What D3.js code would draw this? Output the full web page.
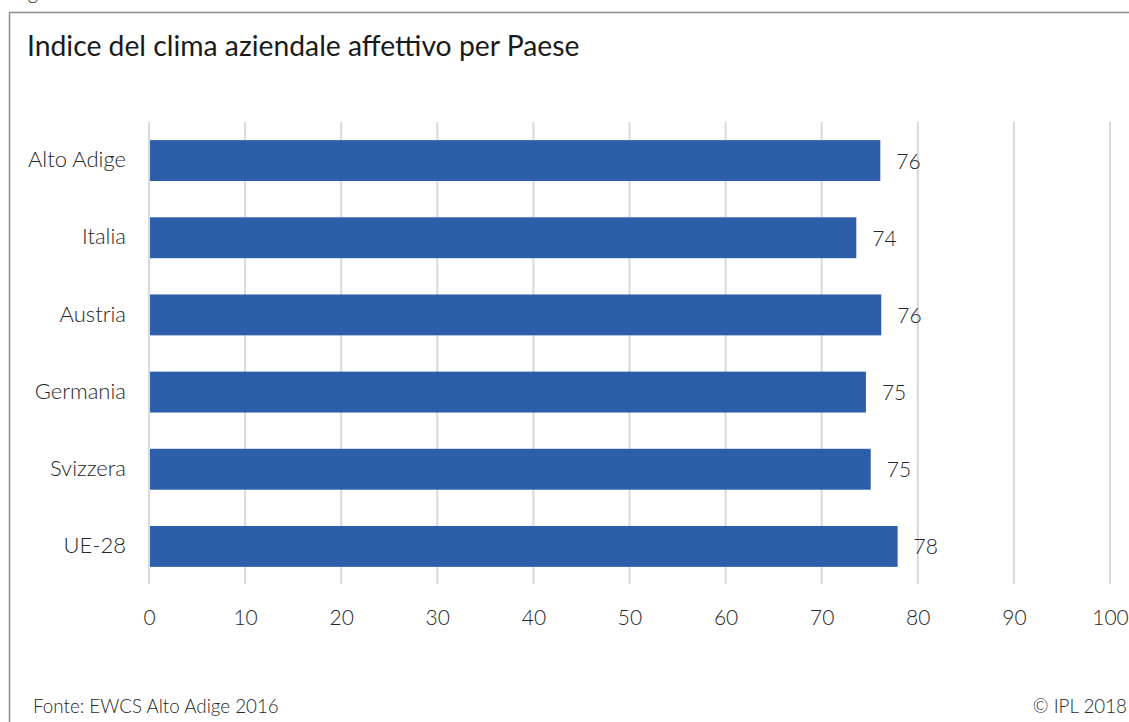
<!DOCTYPE html>
<html>
<head>
<meta charset="utf-8">
<script src="https://cdn.jsdelivr.net/npm/d3@7"></script>
<style>
  html, body { margin: 0; padding: 0; background: #fff; }
  svg { display: block; font-family: Lato, "Noto Sans", sans-serif; font-weight: 300; }
</style>
</head>
<body>
<svg id="chart" width="1129" height="722"></svg>
<script>
const categories = ["Alto Adige", "Italia", "Austria", "Germania", "Svizzera", "UE-28"];
const values = [76.1, 73.6, 76.2, 74.6, 75.1, 77.9];
const valueLabels = ["76", "74", "76", "75", "75", "78"];
const xTicks = [0, 10, 20, 30, 40, 50, 60, 70, 80, 90, 100];
const title = "Indice del clima aziendale affettivo per Paese";
const source = "Fonte: EWCS Alto Adige 2016";
const copyright = "© IPL 2018";

const svg = d3.select("#chart");

// heading above the frame, clipped by the top edge as in the reference
svg.append("text").attr("x", 11).attr("y", -1)
  .attr("font-size", 21).attr("fill", "#333").text("Figura");

// frame
svg.append("path")
  .attr("d", "M9.5,722 V12.5 H1129")
  .attr("fill", "none").attr("stroke", "#8c8c8c").attr("stroke-width", 1.5);

svg.append("text").attr("x", 27).attr("y", 56)
  .attr("font-size", 28.3).attr("font-weight", 400).attr("fill", "#1a1a1a").text(title);

const x = d3.scaleLinear().domain([0, 100]).range([149, 1110]);
const y = d3.scaleBand().domain(categories).range([122, 585]).paddingInner(0.47).paddingOuter(0.235);

// grid
svg.append("g").selectAll("line").data(xTicks).join("line")
  .attr("x1", d => x(d)).attr("x2", d => x(d))
  .attr("y1", 122).attr("y2", 584)
  .attr("stroke", "#d9d9d9").attr("stroke-width", 2);

// bars
svg.append("g").selectAll("rect").data(categories).join("rect")
  .attr("x", x(0) + 1).attr("y", (d) => y(d))
  .attr("width", (d, i) => x(values[i]) - x(0) - 1)
  .attr("height", y.bandwidth())
  .attr("fill", "#2c5ea9");

// value labels
svg.append("g").selectAll("text").data(categories).join("text")
  .attr("x", (d, i) => x(values[i]) + 16)
  .attr("y", d => y(d) + y.bandwidth() / 2 + 8)
  .attr("font-size", 21).attr("fill", "#262626")
  .text((d, i) => valueLabels[i]);

// y axis labels
const yAxis = d3.axisLeft(y).tickSize(0).tickPadding(0);
const gy = svg.append("g").attr("transform", "translate(126,0)").call(yAxis);
gy.select(".domain").remove();
gy.selectAll("text").attr("font-size", 22).attr("fill", "#262626")
  .attr("font-family", "Lato, 'Noto Sans', sans-serif").attr("font-weight", 300).attr("dy", "0.3em");

// x axis labels
const xAxis = d3.axisBottom(x).tickValues(xTicks).tickSize(0).tickPadding(0).tickFormat(d3.format("d"));
const gx = svg.append("g").attr("transform", "translate(0,609)").call(xAxis);
gx.select(".domain").remove();
gx.selectAll("text").attr("font-size", 21).attr("fill", "#262626")
  .attr("font-family", "Lato, 'Noto Sans', sans-serif").attr("font-weight", 300).attr("dy", "0.75em");

svg.append("text").attr("x", 33).attr("y", 713)
  .attr("font-size", 18.8).attr("fill", "#262626").text(source);
svg.append("text").attr("x", 1127).attr("y", 713).attr("text-anchor", "end")
  .attr("font-size", 18.8).attr("fill", "#262626").text(copyright);
</script>
</body>
</html>
